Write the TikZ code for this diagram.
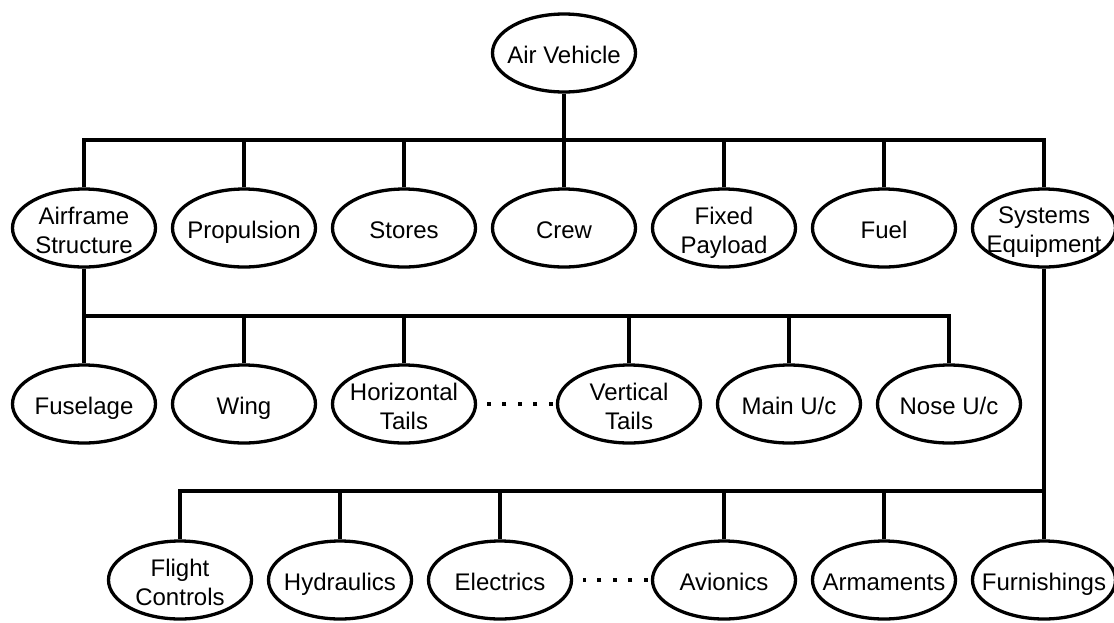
\documentclass[tikz,border=0pt]{standalone}
\usepackage{fontspec}
\setmainfont{Liberation Sans}
\usetikzlibrary{shapes.geometric}
\begin{document}
\begin{tikzpicture}[x=1pt,y=-1pt,
  box/.style={ellipse, draw, line width=3.3pt, minimum width=143pt, minimum height=78pt, inner sep=0pt},
  txt/.style={font=\fontsize{24}{29}\selectfont, align=center, inner sep=0pt, text=black, text depth=0pt, yshift=-2pt},
  conn/.style={line width=3.3pt},
  dotline/.style={line width=4pt, dash pattern=on 4pt off 11.5pt, shorten <=3pt, shorten >=10pt}]
\useasboundingbox (0,0) rectangle (1114,622);
% level 0
\node[box, label={[txt]center:Air Vehicle}] (av) at (564,53) {};
% level 1
\node[box, label={[txt]center:Airframe\\Structure}] (af) at (84,228) {};
\node[box, label={[txt]center:Propulsion}] (prop) at (244,228) {};
\node[box, label={[txt]center:Stores}] (stores) at (404,228) {};
\node[box, label={[txt]center:Crew}] (crew) at (564,228) {};
\node[box, label={[txt]center:Fixed\\Payload}] (fp) at (724,228) {};
\node[box, label={[txt]center:Fuel}] (fuel) at (884,228) {};
\node[box, label={[txt]center:Systems\\Equipment}] (se) at (1044,228) {};
% level 2
\node[box, label={[txt]center:Fuselage}] (fus) at (84,404) {};
\node[box, label={[txt]center:Wing}] (wing) at (244,404) {};
\node[box, label={[txt]center:Horizontal\\Tails}] (ht) at (404,404) {};
\node[box, label={[txt]center:Vertical\\Tails}] (vt) at (629,404) {};
\node[box, label={[txt]center:Main U/c}] (main) at (789,404) {};
\node[box, label={[txt]center:Nose U/c}] (nose) at (949,404) {};
% level 3
\node[box, label={[txt]center:Flight\\Controls}] (fc) at (180,580) {};
\node[box, label={[txt]center:Hydraulics}] (hyd) at (340,580) {};
\node[box, label={[txt]center:Electrics}] (elec) at (500,580) {};
\node[box, label={[txt]center:Avionics}] (avi) at (724,580) {};
\node[box, label={[txt]center:Armaments}] (arm) at (884,580) {};
\node[box, label={[txt]center:Furnishings}] (furn) at (1044,580) {};
% bus coordinates
\coordinate (b1) at (564,140);
\coordinate (b2) at (84,316);
\coordinate (b3) at (1044,491);
% level 0 -> 1
\draw[conn] (av.south) -- (crew.north);
\draw[conn] (af.north) |- (b1) -| (se.north);
\foreach \n in {prop,stores,fp,fuel} \draw[conn] (\n.north) -- (\n.north |- b1);
% level 1 -> 2
\draw[conn] (af.south) -- (fus.north);
\draw[conn] (b2) -| (nose.north);
\foreach \n in {wing,ht,vt,main} \draw[conn] (\n.north) -- (\n.north |- b2);
% level 1 -> 3
\draw[conn] (se.south) -- (furn.north);
\draw[conn] (b3) -| (fc.north);
\foreach \n in {hyd,elec,avi,arm} \draw[conn] (\n.north) -- (\n.north |- b3);
% dotted gaps
\draw[dotline] (vt.west) -- (ht.east);
\draw[dotline] (avi.west) -- (elec.east);
\end{tikzpicture}
\end{document}
